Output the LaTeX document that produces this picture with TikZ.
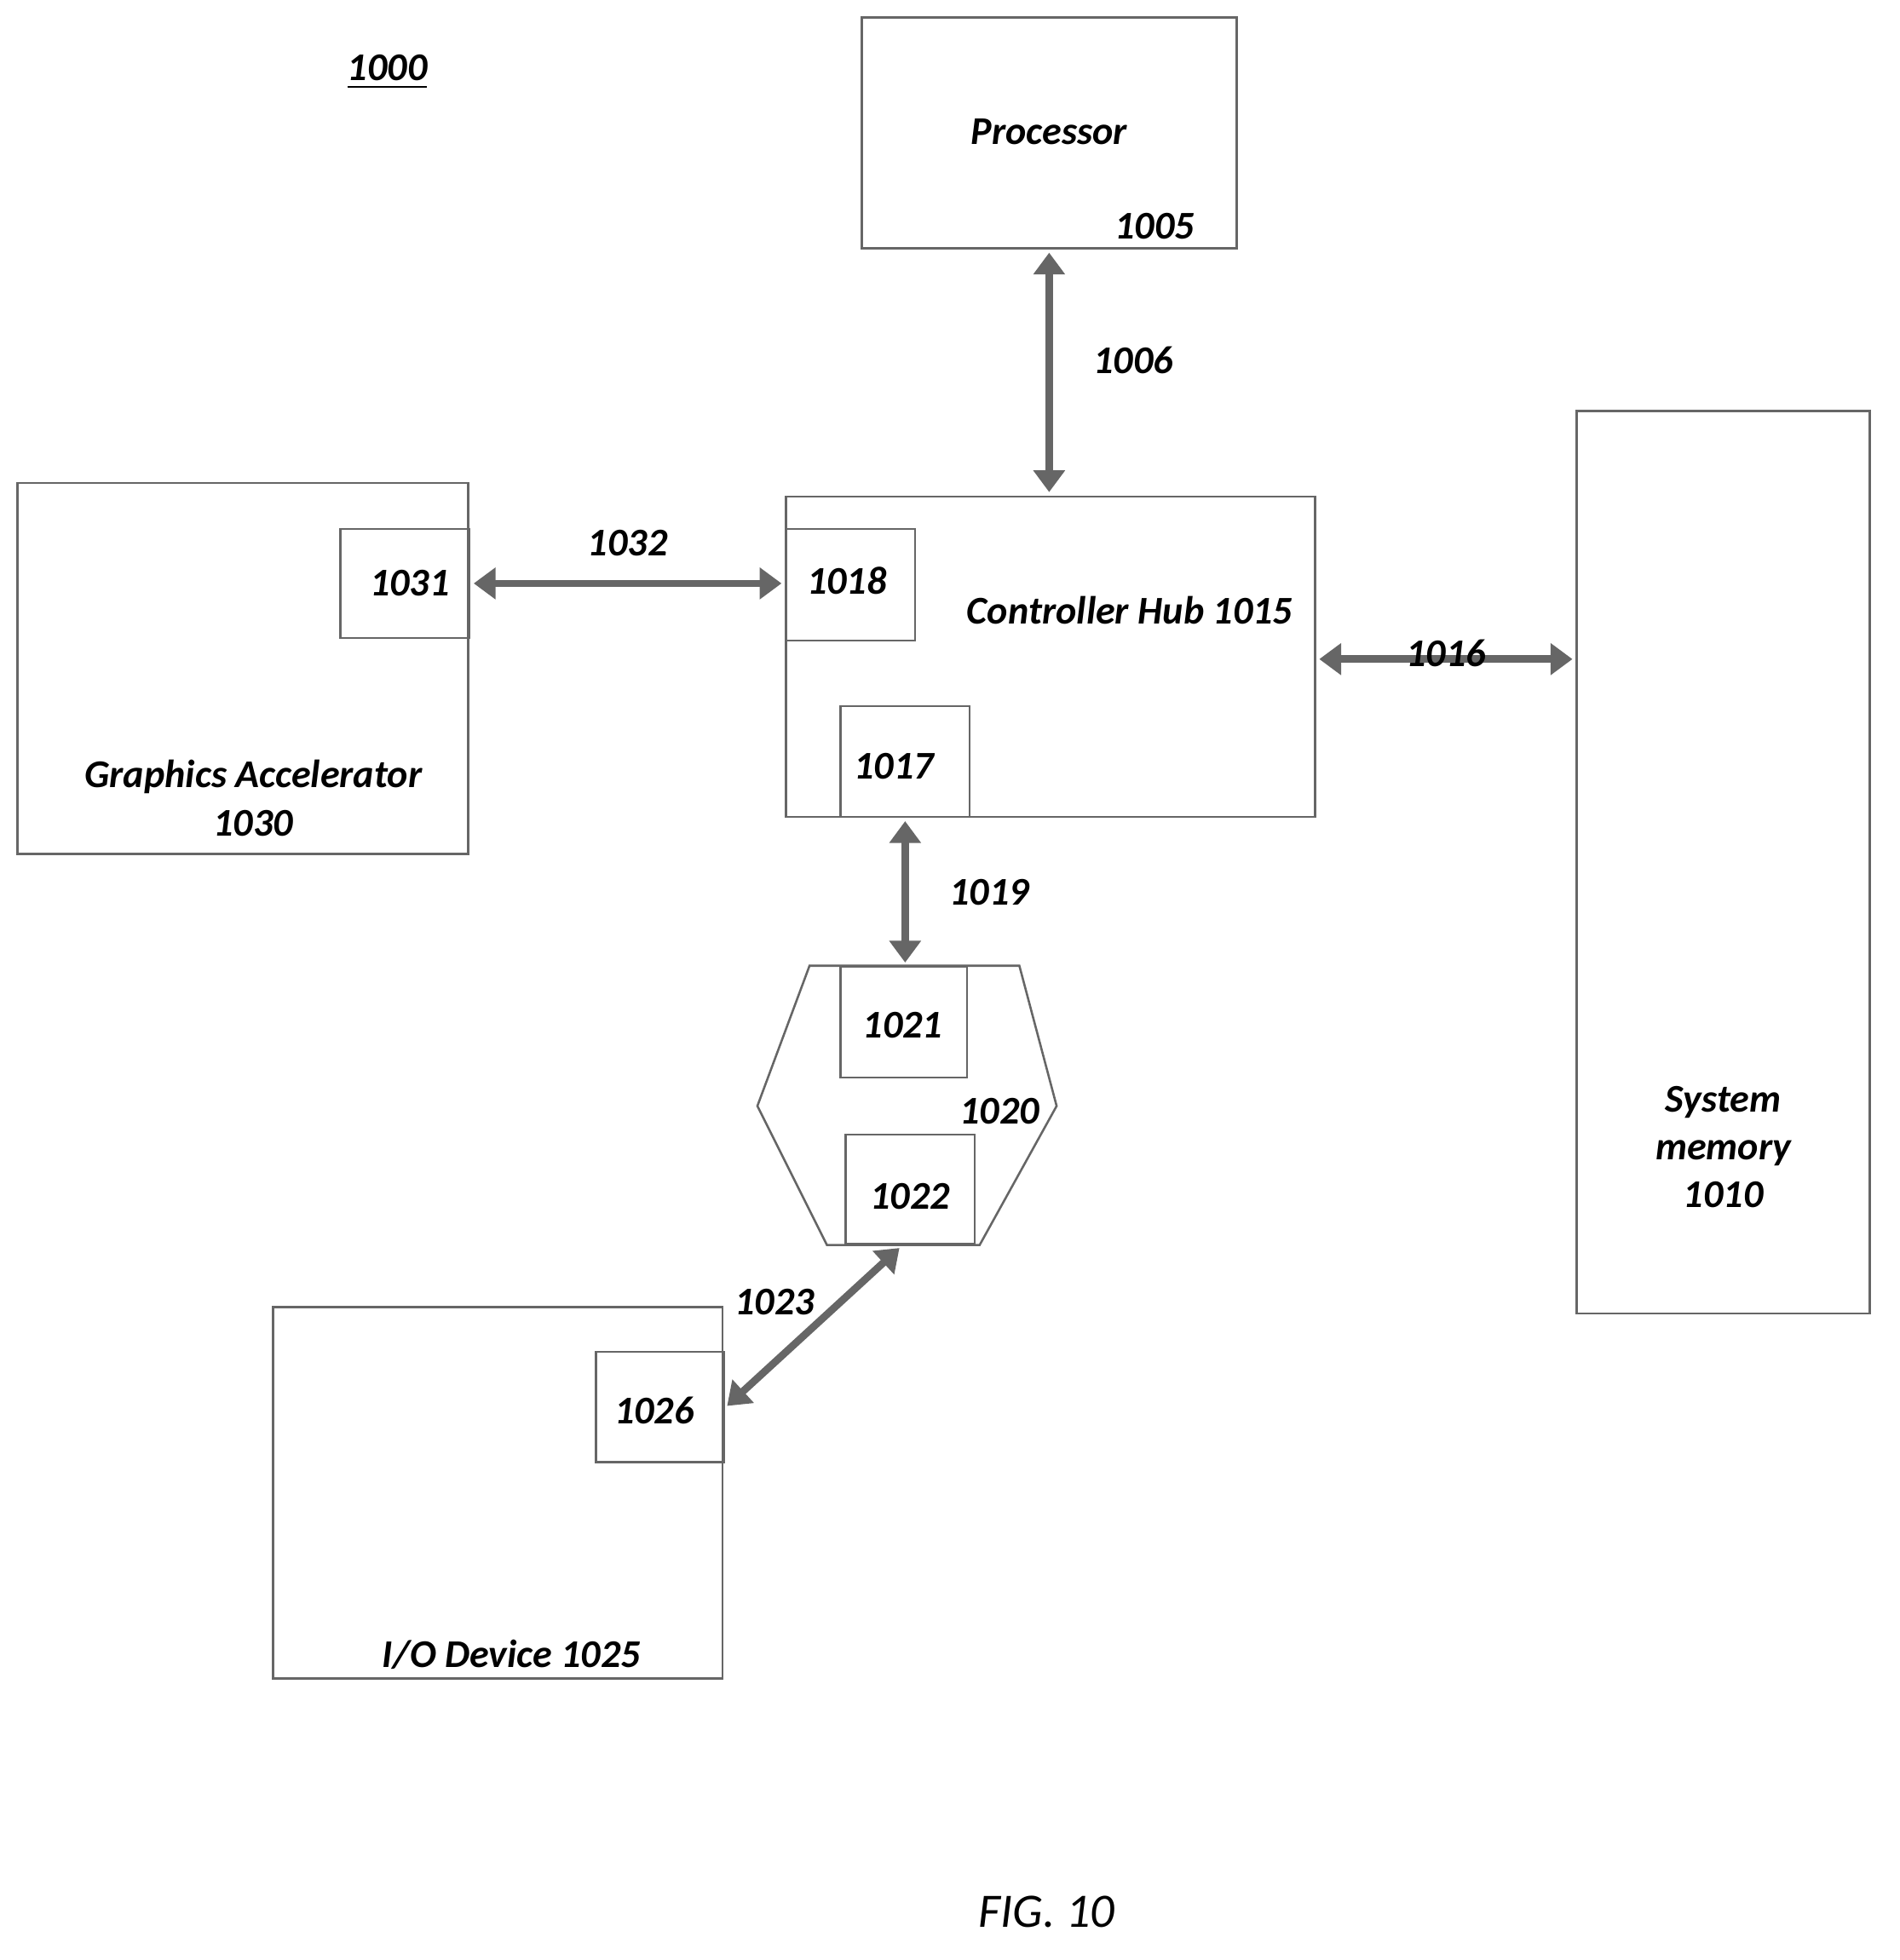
\documentclass[tikz,border=0pt]{standalone}
\usepackage{fontspec}
\setmainfont{Carlito}
\usetikzlibrary{arrows.meta}
\begin{document}
\begin{tikzpicture}
    [x=.01cm, y=-.01cm,
     font=\fontsize{9}{11}\selectfont\bfseries\itshape,
     blk/.style={draw=black!60, line width=.5pt},
     bus/.style={draw=black!60, line width=1.7pt,
                 {Triangle[length=5pt,width=7pt]}-{Triangle[length=5pt,width=7pt]},
                 shorten <=1pt, shorten >=1pt},
    ]
    \useasboundingbox (0,0) rectangle (1530,1579);

    \node (fig) at (312,58) {\underline{1000}};

    % Blocks
    \draw[blk] (694,14) rectangle (996,200);
    \node (proc) at (845,106) {Processor};
    \node (n1005) at (930,182) {1005};

    \draw[blk] (633,400) rectangle (1059,658);
    \node (hub) at (910,492) {Controller Hub 1015};
    \draw[blk] (633,426) rectangle (737,516);
    \node (n1018) at (682,468) {1018};
    \draw[blk] (677,569) rectangle (781,658);
    \node (n1017) at (720,617) {1017};

    \draw[blk] (14,389) rectangle (377,688);
    \node[align=center] (gfx) at (204,643) {Graphics Accelerator\\1030};
    \draw[blk] (274,426) rectangle (378,514);
    \node (n1031) at (330,470) {1031};

    \draw[blk] (1270,331) rectangle (1506,1058);
    \node[align=center] (mem) at (1388,924) {System\\memory\\1010};

    \draw[blk] (652,778) -- (821,778) -- (851,891) -- (789,1003)
        -- (666,1003) -- (610,891) -- cycle;
    \node (n1020) at (805,895) {1020};
    \draw[blk] (677,779) rectangle (779,868);
    \node (n1021) at (727,826) {1021};
    \draw[blk] (681,914) rectangle (785,1002);
    \node (n1022) at (733,964) {1022};

    \draw[blk] (220,1053) rectangle (582,1352);
    \node (io) at (412,1333) {I/O Device 1025};
    \draw[blk] (480,1089) rectangle (583,1178);
    \node (n1026) at (527,1136) {1026};

    % Buses
    \coordinate (pB) at (845,200);
    \coordinate (hT) at (845,400);
    \draw[bus] (pB) -- (hT) node[pos=.45, right=6pt] {1006};
    \coordinate (gR) at (378,470);
    \coordinate (hL) at (633,470);
    \draw[bus] (gR) -- (hL) node[midway, above=2pt] {1032};
    \coordinate (hR) at (1059,531);
    \coordinate (mL) at (1270,531);
    \draw[bus] (hR) -- (mL) node[midway, above=-6pt] {1016};
    \coordinate (hB) at (729,658);
    \coordinate (xT) at (729,779);
    \draw[bus] (hB) -- (xT) node[midway, right=6pt] {1019};
    \coordinate (xB) at (727,1003);
    \coordinate (iR) at (583,1135);
    \draw[bus] (xB) -- (iR);
    \node at (624,1049) {1023};

    \node[font=\fontsize{11}{13}\selectfont\itshape] (cap) at (843,1540) {FIG. 10};
\end{tikzpicture}
\end{document}
